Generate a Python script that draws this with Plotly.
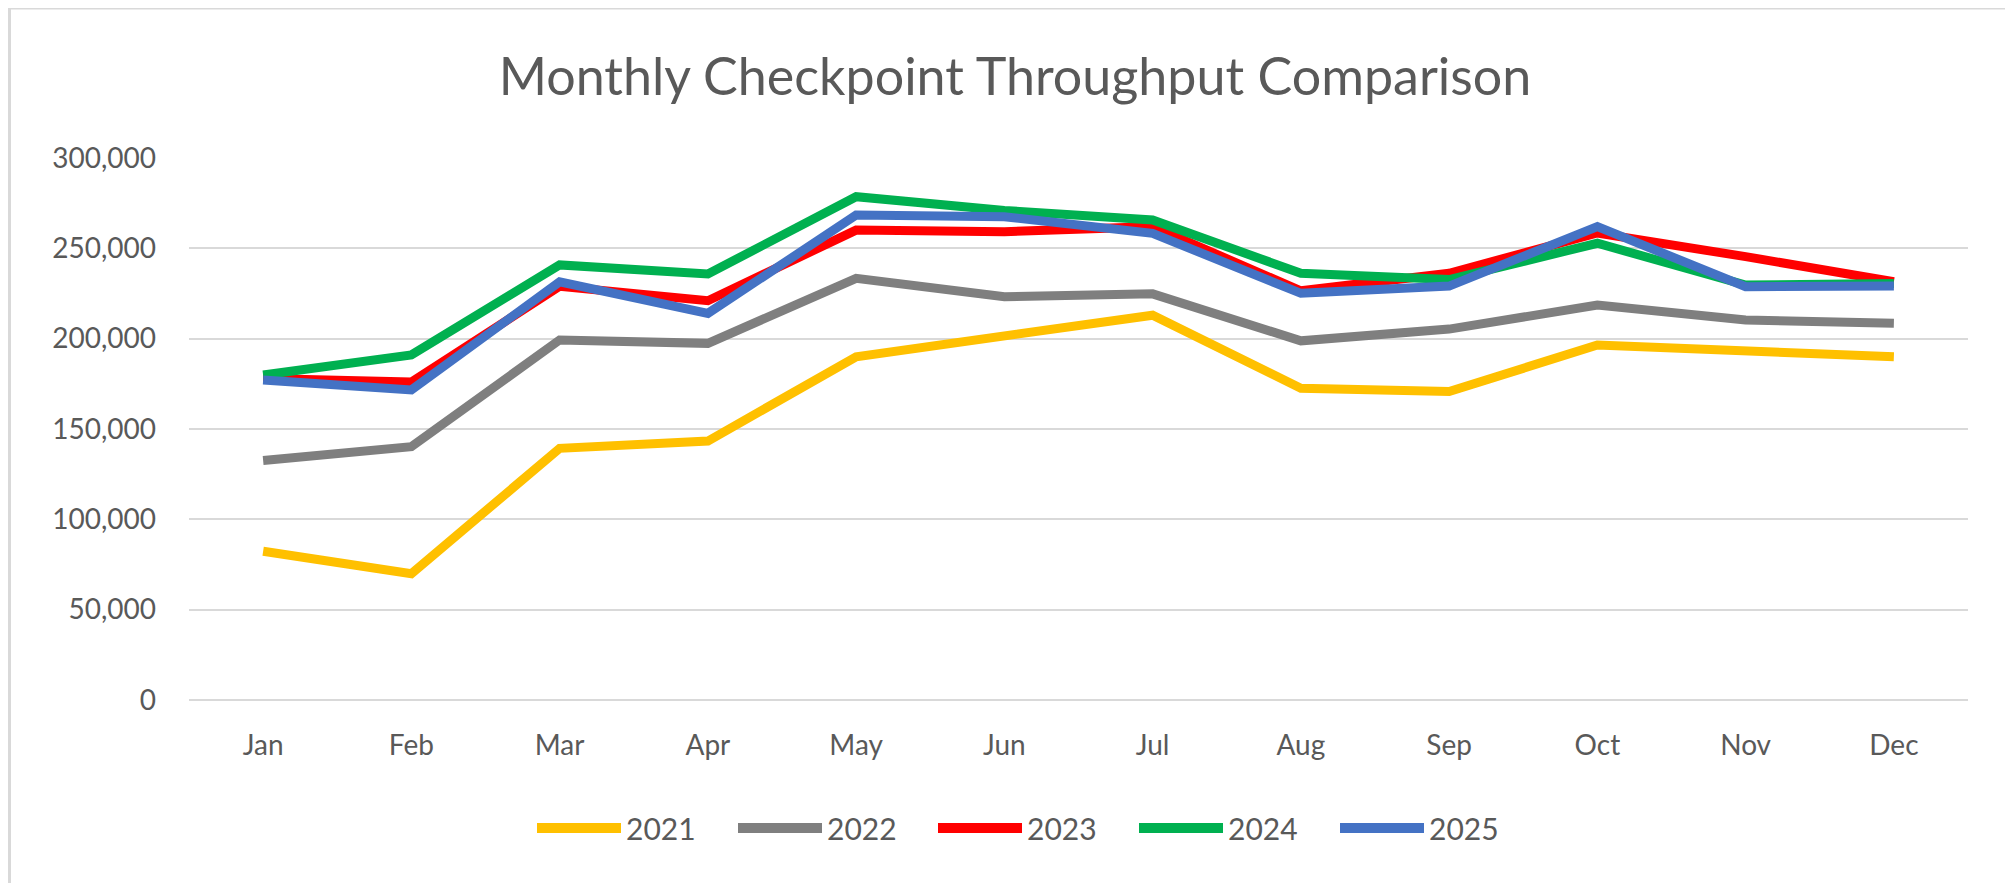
import plotly.graph_objects as go

months = ["Jan", "Feb", "Mar", "Apr", "May", "Jun", "Jul", "Aug", "Sep", "Oct", "Nov", "Dec"]
years = ["2021", "2022", "2023", "2024", "2025"]
colors = ["#FFC000", "#7F7F7F", "#FF0000", "#00B050", "#4472C4"]

y2021 = [82300, 69900, 139300, 143300, 190000, 201000, 213000, 172600, 170700, 196500, 193600, 190000]
y2022 = [132600, 140200, 199300, 197400, 233400, 223200, 224800, 198800, 205300, 218600, 210300, 208500]
y2023 = [178000, 176000, 229000, 221000, 260100, 259200, 262000, 226500, 236200, 258500, 245400, 231500]
y2024 = [179900, 191000, 240800, 235800, 278600, 271000, 265700, 236200, 232700, 252800, 229700, 230600]
y2025 = [177100, 171600, 231500, 214000, 268400, 267500, 258300, 225100, 229100, 262000, 228800, 229100]
series = [y2021, y2022, y2023, y2024, y2025]

y_ticks = [0, 50000, 100000, 150000, 200000, 250000, 300000]
y_tick_text = ["0", "50,000", "100,000", "150,000", "200,000", "250,000", "300,000"]

FONT = "Lato, 'Open Sans', sans-serif"
TEXT = "#595959"
GRID = "#D9D9D9"

# page body has an 8px margin; compensate so the figure lands where the reference is
OFF = 8
W, H = 2013 - OFF, 883 - OFF
L, T = 189 - OFF, 158 - OFF
R = W - (1968 - OFF)
B = H - (700 - OFF)
PW = W - L - R
PH = H - T - B

fig = go.Figure()
for name, vals, col in zip(years, series, colors):
    fig.add_trace(go.Scatter(
        x=months, y=vals, name=name, mode="lines",
        line=dict(color=col, width=9),
        showlegend=False,
    ))

def px_to_paper_x(px):
    return (px - OFF - L) / PW

def px_to_paper_y(py):
    return (H - B - (py - OFF)) / PH

# custom legend (Excel-style long line samples)
leg_y = px_to_paper_y(828)
leg_line_x0 = [537, 738, 938, 1139, 1340]
leg_line_len = 84
shapes = []
annotations = []
for i, (name, col) in enumerate(zip(years, colors)):
    x0 = leg_line_x0[i]
    shapes.append(dict(
        type="line", xref="paper", yref="paper",
        x0=px_to_paper_x(x0), x1=px_to_paper_x(x0 + leg_line_len),
        y0=leg_y, y1=leg_y,
        line=dict(color=col, width=10),
    ))
    annotations.append(dict(
        xref="paper", yref="paper",
        x=px_to_paper_x(x0 + leg_line_len + 3), y=leg_y,
        xanchor="left", yanchor="middle",
        text=name, showarrow=False,
        font=dict(family=FONT, size=30, color=TEXT),
    ))

# chart-area border (top and left edges visible in the crop)
shapes.append(dict(type="line", xref="paper", yref="paper",
                   x0=px_to_paper_x(9), x1=px_to_paper_x(2030),
                   y0=px_to_paper_y(8), y1=px_to_paper_y(8),
                   line=dict(color=GRID, width=3)))
shapes.append(dict(type="line", xref="paper", yref="paper",
                   x0=px_to_paper_x(9), x1=px_to_paper_x(9),
                   y0=px_to_paper_y(8), y1=px_to_paper_y(900),
                   line=dict(color=GRID, width=4)))

fig.update_layout(
    width=W, height=H,
    margin=dict(l=L, r=R, t=T, b=B),
    paper_bgcolor="white", plot_bgcolor="white",
    title=dict(
        text="Monthly Checkpoint Throughput Comparison",
        x=(1015 - OFF) / W, xref="container", xanchor="center",
        y=1 - (77 - OFF) / H, yref="container", yanchor="middle",
        font=dict(family=FONT, size=52, color=TEXT),
    ),
    xaxis=dict(
        type="category", categoryorder="array", categoryarray=months,
        range=[-0.5, 11.5],
        showgrid=False, zeroline=False, showline=False,
        ticks="", ticklabelstandoff=26,
        tickfont=dict(family=FONT, size=28, color=TEXT),
    ),
    yaxis=dict(
        range=[0, 300000],
        tickvals=y_ticks, ticktext=y_tick_text,
        showgrid=True, gridcolor=GRID, gridwidth=2,
        zeroline=True, zerolinecolor=GRID, zerolinewidth=2,
        showline=False, ticks="", ticklabelstandoff=32,
        tickfont=dict(family=FONT, size=28, color=TEXT),
    ),
    shapes=shapes,
    annotations=annotations,
)

fig.write_html("out.html")
